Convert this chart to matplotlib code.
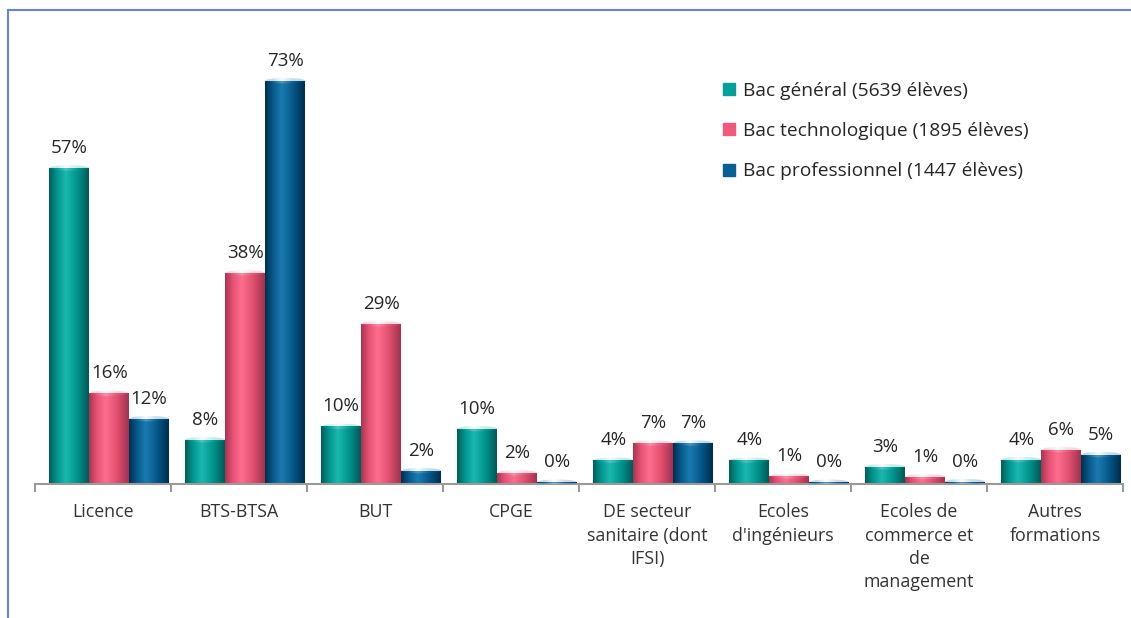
import matplotlib
matplotlib.use("Agg")
import matplotlib.pyplot as plt
import numpy as np
from matplotlib.colors import LinearSegmentedColormap
from matplotlib.patches import Ellipse
from matplotlib.lines import Line2D

plt.rcParams['font.family'] = ['Open Sans', 'DejaVu Sans']

# Data
categories = ["Licence", "BTS-BTSA", "BUT", "CPGE", "DE secteur\nsanitaire (dont\nIFSI)",
              "Ecoles\nd'ingénieurs", "Ecoles de\ncommerce et\nde\nmanagement", "Autres\nformations"]
series = ["Bac général (5639 élèves)", "Bac technologique (1895 élèves)", "Bac professionnel (1447 élèves)"]
bac_general = [57.2, 8.0, 10.4, 10.0, 4.3, 4.3, 3.1, 4.4]
bac_techno = [16.4, 38.2, 29.0, 2.0, 7.4, 1.4, 1.3, 6.2]
bac_pro = [11.8, 73.0, 2.4, 0.3, 7.4, 0.3, 0.4, 5.3]
values = [bac_general, bac_techno, bac_pro]

legend_colors = ["#00a19a", "#f0587c", "#075f92"]
gradients = [
    ["#005f5b", "#00958e", "#1bb8ae", "#00958e", "#005a56"],
    ["#a83550", "#e85274", "#ff6d8e", "#e0506f", "#a23350"],
    ["#002f4f", "#065a8a", "#1a7bb0", "#06588a", "#002d4c"],
]

fig = plt.figure(figsize=(11.31, 6.18), dpi=100)
ax = fig.add_axes([0.031, 0.217, 0.962, 0.715])

n = len(categories)
x = np.arange(n)
w = 0.294
shift = 0.045

for j, vals in enumerate(values):
    cmap = LinearSegmentedColormap.from_list(f"c{j}", list(zip([0, 0.2, 0.42, 0.7, 1], gradients[j])))
    cmap_top = LinearSegmentedColormap.from_list(f"t{j}", list(zip([0, 0.2, 0.42, 0.7, 1],
                                                 [gradients[j][1], gradients[j][2], "#e8f4f8", gradients[j][2], gradients[j][1]])))
    pos = x + shift + (j - 1) * w
    bars = ax.bar(pos, vals, width=w, color="none", zorder=2)
    grad = np.linspace(0, 1, 256).reshape(1, -1)
    for b, v in zip(bars, vals):
        x0, bw = b.get_x(), b.get_width()
        im = ax.imshow(grad, cmap=cmap, extent=[x0, x0 + bw, 0, v], aspect="auto", zorder=2)
        im.set_clip_path(b)
        ell = Ellipse((x0 + bw / 2, v), bw, 1.0, facecolor="none", edgecolor="none", zorder=3)
        ax.add_patch(ell)
        im2 = ax.imshow(grad, cmap=cmap_top, extent=[x0, x0 + bw, v - 0.6, v + 0.6],
                        aspect="auto", zorder=3, alpha=0.25)
        im2.set_clip_path(ell)
        ax.text(x0 + bw / 2, v + 2.0, f"{v:.0f}%", ha="center", va="bottom",
                fontsize=13.5, color="#262626", zorder=4)

ax.set_xlim(-0.5, n - 0.5)
ax.set_ylim(0, 80)
for s in ["top", "right", "left"]:
    ax.spines[s].set_visible(False)
ax.spines["bottom"].set_color("#9a9a9a")
ax.spines["bottom"].set_linewidth(1.5)
ax.set_yticks([])
ax.set_xticks(np.arange(n + 1) - 0.5, minor=False)
ax.set_xticklabels([])
ax.tick_params(axis="x", which="major", length=6, width=1.5, color="#9a9a9a")
ax.set_xticks(x, minor=True)
ax.set_xticklabels(categories, minor=True, fontsize=12.8, color="#333333", linespacing=1.38)
ax.tick_params(axis="x", which="minor", length=0, pad=14)

handles = [Line2D([0], [0], marker="s", linestyle="none", markersize=9,
                  markerfacecolor=c, markeredgecolor=c) for c in legend_colors]
fig.legend(handles, series, loc="upper left", bbox_to_anchor=(0.621, 0.895), frameon=False,
           fontsize=13.8, labelspacing=1.15, handletextpad=0.2, handlelength=1.0,
           labelcolor="#262626")

frame_color = "#6b80d6"
fig.add_artist(Line2D([8 / 1131, 8 / 1131], [0, 1 - 10 / 618], color=frame_color, lw=1.5))
fig.add_artist(Line2D([8 / 1131, 1], [1 - 10 / 618, 1 - 10 / 618], color=frame_color, lw=1.5))

fig.savefig("out.png", dpi=100)
